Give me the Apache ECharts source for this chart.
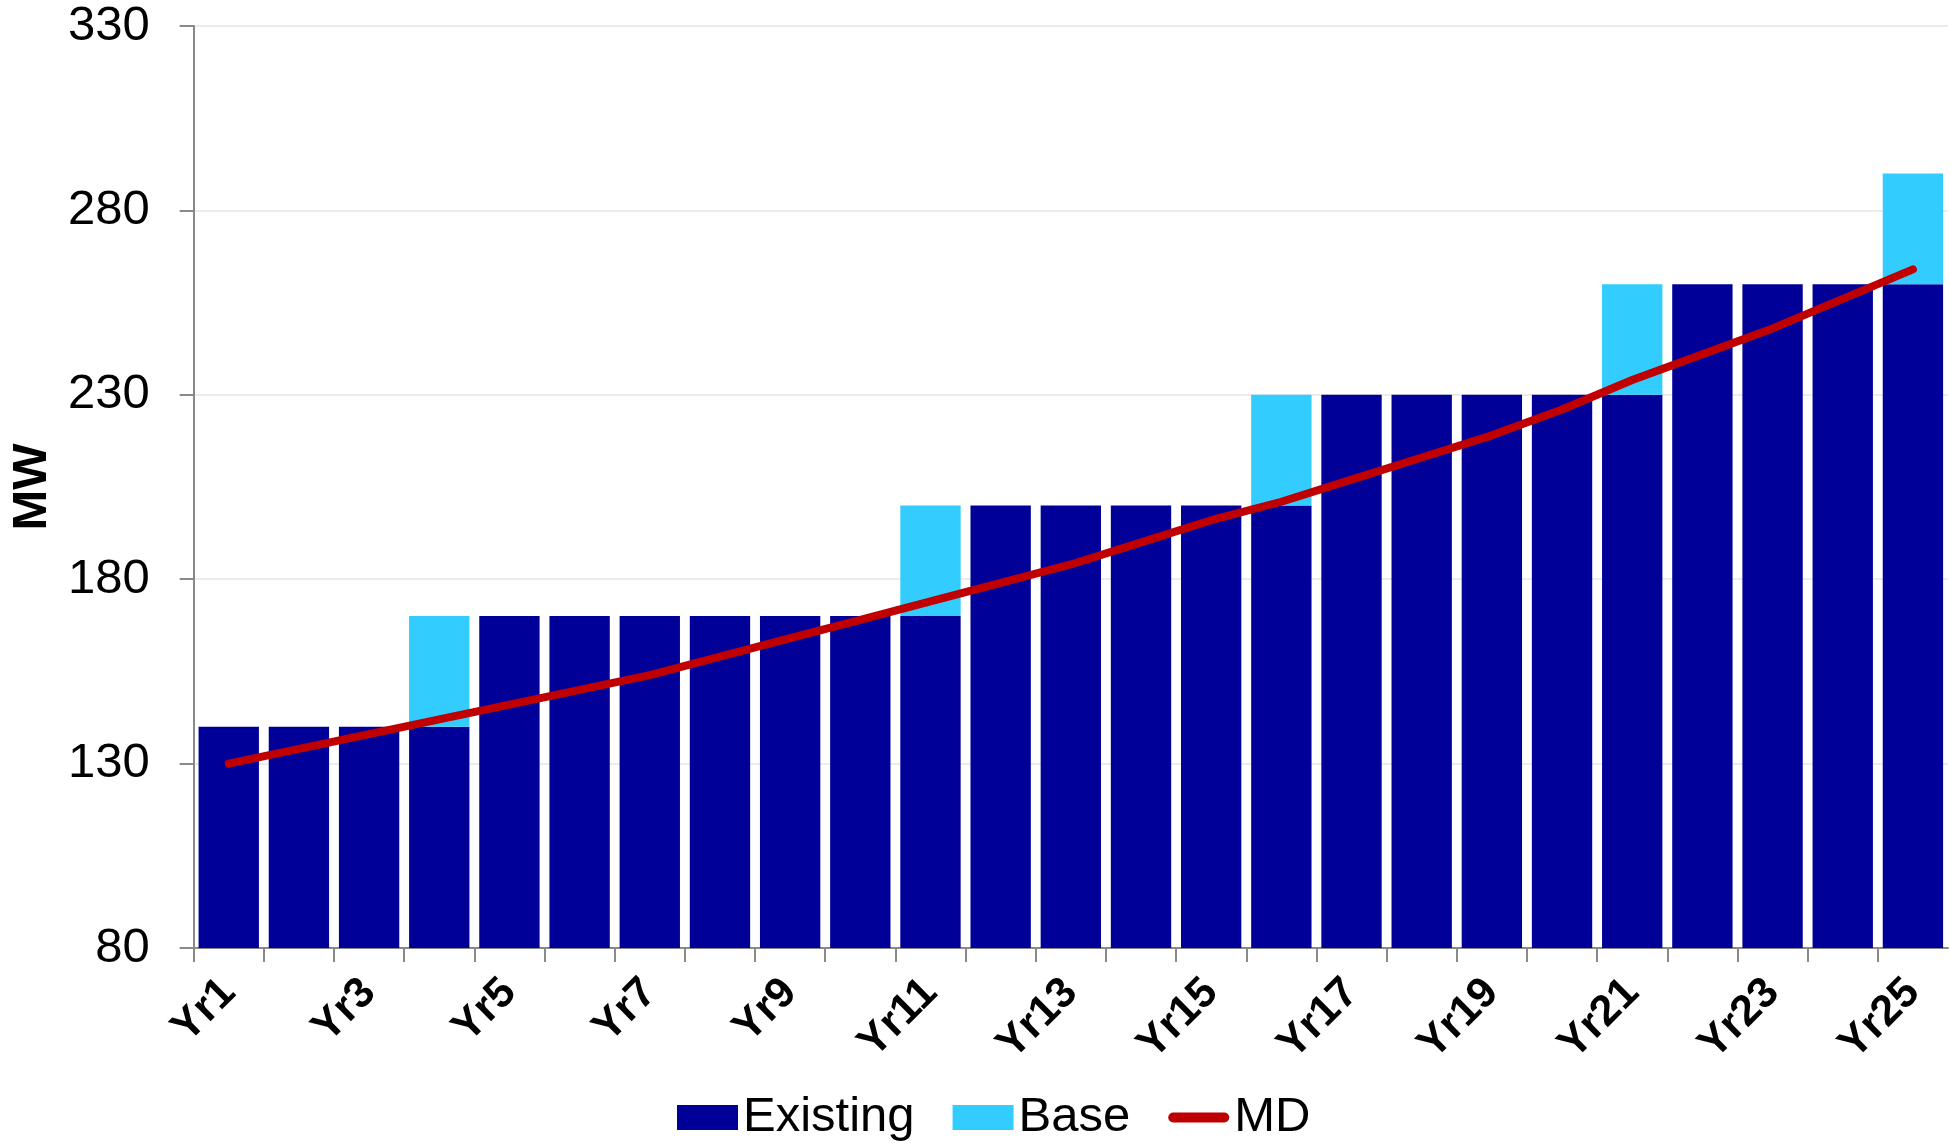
<!DOCTYPE html>
<html>
<head>
<meta charset="utf-8">
<script src="https://cdn.jsdelivr.net/npm/echarts@6/dist/echarts.min.js"></script>
<style>
html,body{margin:0;padding:0;background:#fff;}
#chart{width:1951px;height:1144px;}
</style>
</head>
<body>
<div id="chart"></div>
<script>
var categories = ['Yr1','Yr2','Yr3','Yr4','Yr5','Yr6','Yr7','Yr8','Yr9','Yr10','Yr11','Yr12','Yr13','Yr14','Yr15','Yr16','Yr17','Yr18','Yr19','Yr20','Yr21','Yr22','Yr23','Yr24','Yr25'];
var existing = [140,140,140,140,170,170,170,170,170,170,170,200,200,200,200,200,230,230,230,230,230,260,260,260,260];
var base = [0,0,0,30,0,0,0,0,0,0,30,0,0,0,0,30,0,0,0,0,30,0,0,0,30];
var md = [130,134,138,142,146,150,154,159,164,169,174,179,184,190,196,201,207,213,219,226,234,241,248,256,264];
var yTicks = {min:80, max:330, step:50};

var chart = echarts.init(document.getElementById('chart'), null, {renderer:'canvas'});
var FONT = 'Liberation Sans, Arial, sans-serif';
var axisGray = '#898989';
var mdIcon = 'path://M0,0 M61,25 M5,7.5 L56,7.5 A5,5 0 0 1 56,17.5 L5,17.5 A5,5 0 0 1 5,7.5 Z';
chart.setOption({
  animation:false,
  backgroundColor:'#fff',
  textStyle:{fontFamily:FONT},
  grid:{left:193, right:3, top:26, bottom:196, containLabel:false},
  legend:{
    left:677, top:1093, padding:0,
    itemWidth:61, itemHeight:25, itemGap:38,
    textStyle:{fontSize:49, color:'#000', fontFamily:FONT},
    data:[
      {name:'Existing', icon:'rect'},
      {name:'Base', icon:'rect'},
      {name:'MD', icon:mdIcon, itemStyle:{color:'#C00000', borderWidth:0}}
    ]
  },
  xAxis:{
    type:'category', data:categories,
    axisLine:{show:true, lineStyle:{color:axisGray, width:2}},
    axisTick:{show:true, interval:0, length:14, lineStyle:{color:axisGray, width:2}},
    axisLabel:{interval:1, rotate:45, margin:38, fontSize:43, fontWeight:'bold', color:'#000', fontFamily:FONT},
    splitLine:{show:false}
  },
  yAxis:{
    type:'value', min:yTicks.min, max:yTicks.max, interval:yTicks.step,
    name:'MW', nameLocation:'middle', nameRotate:90, nameGap:132,
    nameTextStyle:{fontSize:49, fontWeight:'bold', color:'#000', fontFamily:FONT},
    axisLine:{show:true, lineStyle:{color:axisGray, width:2}},
    axisTick:{show:true, length:14, lineStyle:{color:axisGray, width:2}},
    axisLabel:{margin:44, fontSize:49, color:'#000', fontFamily:FONT},
    splitLine:{show:true, lineStyle:{color:'#ECECEC', width:2}}
  },
  series:[
    {name:'Existing', type:'bar', stack:'mw', data:existing, barCategoryGap:'14%',
      itemStyle:{color:'#000099'}},
    {name:'Base', type:'bar', stack:'mw', data:base, barCategoryGap:'14%',
      itemStyle:{color:'#33CCFF'}},
    {name:'MD', type:'line', data:md, symbol:'none', showSymbol:false, z:5,
      lineStyle:{color:'#C00000', width:8, cap:'round', join:'round'},
      itemStyle:{color:'#C00000'}}
  ]
});
</script>
</body>
</html>
